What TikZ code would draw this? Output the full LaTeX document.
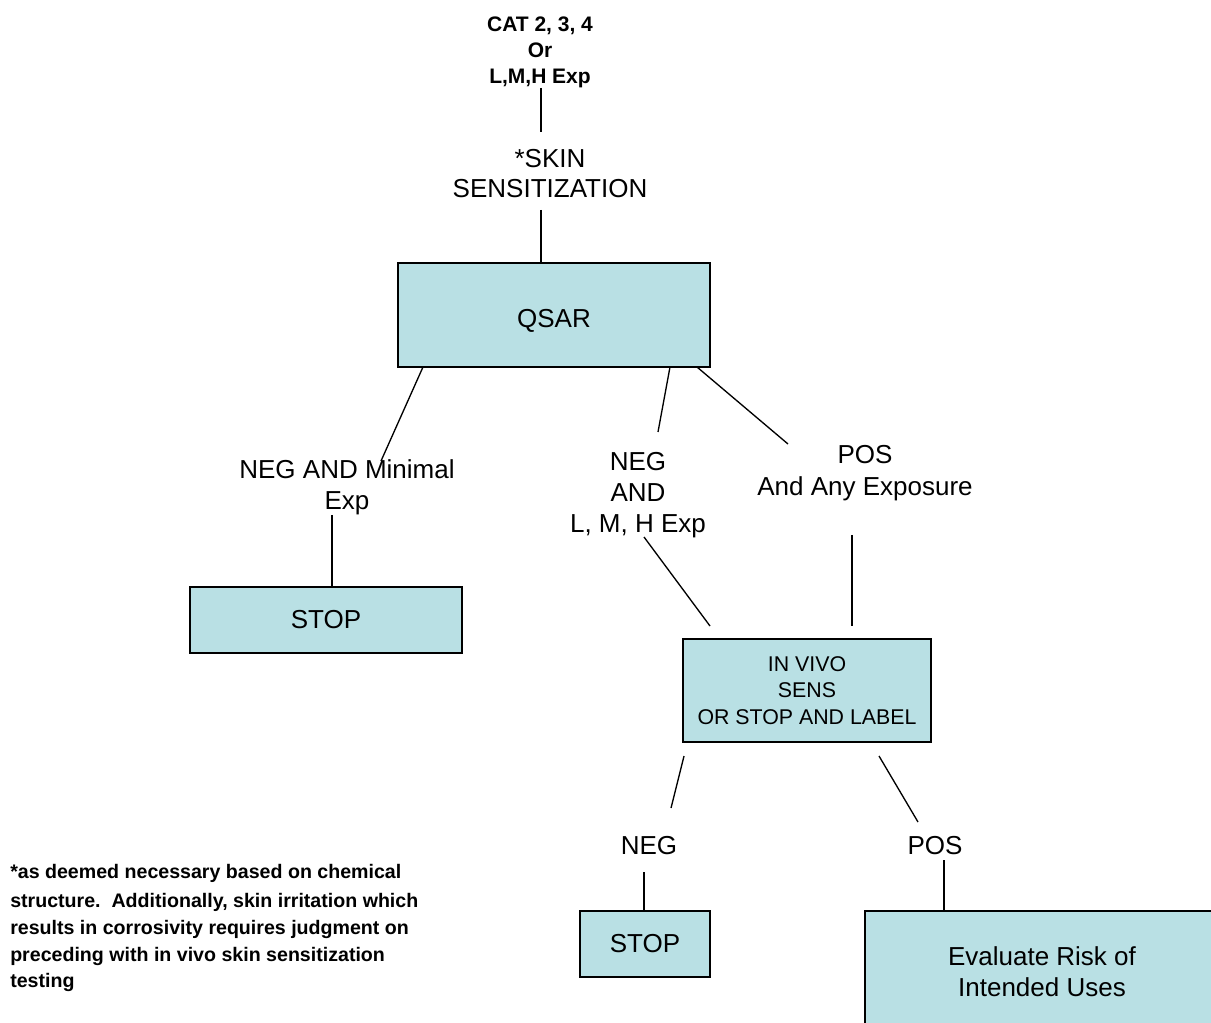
\documentclass[tikz,border=0pt]{standalone}
\usepackage{fontspec}
\setmainfont{Liberation Sans}
\definecolor{boxfill}{RGB}{185,224,228}
\begin{document}
\begin{tikzpicture}[x=0.75pt,y=-0.75pt,
  box/.style 2 args={draw, line width=1.1pt, fill=boxfill, minimum width=#1, minimum height=#2, inner sep=0pt, align=center, font=\fontsize{19.5}{23.5}\selectfont},
  lbl/.style={inner sep=0pt, align=center, font=\fontsize{19.5}{23.5}\selectfont},
  conn/.style={line width=1pt}]
\useasboundingbox (0,0) rectangle (1211,1023);
\node[lbl, font=\bfseries\fontsize{15.75}{19.5}\selectfont] (cat) at (540,52){CAT 2, 3, 4\\Or\\L,M,H Exp};
\node[lbl, font=\fontsize{19.5}{22.5}\selectfont] (skin) at (550,174){*SKIN\\SENSITIZATION};
\node[box={234pt}{78pt}] (qsar) at (554,315){\raisebox{-9.25pt}[0pt][0pt]{QSAR}};
\node[lbl] (neg1) at (347,487){NEG AND Minimal\\Exp};
\node[box={204pt}{49.5pt}] (stop1) at (326,620){STOP};
\node[lbl] (neg2) at (638,495){NEG\\AND\\L, M, H Exp};
\node[lbl] (pos1) at (865,473){POS\\And Any Exposure};
\node[box={186pt}{77.25pt}, font=\fontsize{16}{20}\selectfont] (invivo) at (807,690.5){IN VIVO\\SENS\\OR STOP AND LABEL};
\node[lbl] (neg3) at (649,846){NEG};
\node[lbl] (pos3) at (935,846){POS};
\node[box={97.5pt}{49.5pt}] (stop2) at (645,944){STOP};
\node[box={265.5pt}{90.75pt}, font=\fontsize{19.5}{23.25}\selectfont] (eval) at (1042,971.5){Evaluate Risk of\\Intended Uses};
\node[inner sep=0pt, anchor=west, align=left, font=\bfseries\fontsize{14.7}{20}\selectfont] (foot) at (10,928){*as deemed necessary based on chemical\\[2pt]structure.\ \ Additionally, skin irritation which\\results in corrosivity requires judgment on\\preceding with in vivo skin sensitization\\testing};
% free ends of the connectors
\coordinate (cat1) at (541,88);
\coordinate (cat2) at (541,132);
\coordinate (skin1) at (541,210);
\coordinate (qn1) at (423,367);
\coordinate (neg1a) at (381,461);
\coordinate (neg1b) at (332,515);
\coordinate (qn2) at (670,367);
\coordinate (neg2a) at (658,432);
\coordinate (neg2b) at (644,537);
\coordinate (neg2c) at (710,626);
\coordinate (qp) at (697,367);
\coordinate (pos1a) at (788,444);
\coordinate (pos1b) at (852,535);
\coordinate (pos1c) at (852,626);
\coordinate (ivn) at (684,756);
\coordinate (neg3a) at (671,808);
\coordinate (neg3b) at (644,872);
\coordinate (ivp) at (879,756);
\coordinate (pos3a) at (918,822);
\coordinate (pos3b) at (944,860);
\draw[conn](cat1) -- (cat2);
\draw[conn](skin1) -- (skin1 |- qsar.north);
\draw[conn](qn1) -- (neg1a);
\draw[conn](neg1b) -- (neg1b |- stop1.north);
\draw[conn](qn2) -- (neg2a);
\draw[conn](neg2b) -- (neg2c);
\draw[conn](qp) -- (pos1a);
\draw[conn](pos1b) -- (pos1c);
\draw[conn](ivn) -- (neg3a);
\draw[conn](ivp) -- (pos3a);
\draw[conn](neg3b) -- (neg3b |- stop2.north);
\draw[conn](pos3b) -- (pos3b |- eval.north);

\end{tikzpicture}
\end{document}
